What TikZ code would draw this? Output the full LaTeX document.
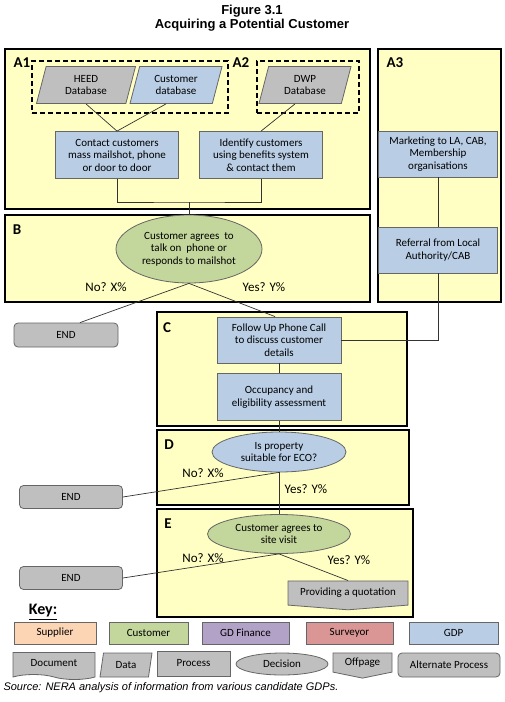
\documentclass[tikz,border=0pt]{standalone}
\usepackage{fontspec}
\setmainfont{Carlito}
\newfontfamily\arial{Liberation Sans}
\usetikzlibrary{shapes.geometric,shapes.symbols}
\definecolor{panelyellow}{HTML}{FFFFC4}
\definecolor{grey}{HTML}{BFBFBF}
\definecolor{gdpblue}{HTML}{B9CDE5}
\definecolor{custgreen}{HTML}{C3D69B}
\definecolor{peach}{HTML}{FCD5B5}
\definecolor{purple}{HTML}{B3A2C7}
\definecolor{rose}{HTML}{D99694}

\begin{document}
\begin{tikzpicture}[x=1pt,y=-1pt,
    every node/.style={font=\fontsize{11}{12.5}\selectfont, align=center},
    panel/.style={draw=black, line width=1.6pt, fill=panelyellow, inner sep=0pt},
    dashbox/.style={draw=black, line width=1.3pt, dash pattern=on 5pt off 3pt, inner sep=0pt},
    proc/.style={draw=black!60, line width=0.8pt, fill=gdpblue, inner sep=1pt, minimum width=123pt, minimum height=47pt},
    data/.style={trapezium, trapezium left angle=66, trapezium right angle=114, trapezium stretches body,
        draw=black!60, line width=0.8pt, inner sep=1pt, minimum width=92pt, minimum height=37pt},
    decision/.style={ellipse, draw=black!60, line width=0.8pt, inner sep=0pt},
    endbox/.style={rectangle, rounded corners=4pt, draw=black!60, line width=0.8pt, fill=grey, minimum width=104pt, minimum height=24pt},
    offpage/.style={signal, signal to=south, signal from=nowhere, signal pointer angle=171,
        draw=black!60, line width=0.8pt, fill=grey, inner sep=1pt},
    keybox/.style={draw=black!60, line width=0.8pt, minimum height=22pt, inner sep=1pt},
    lbl/.style={font=\fontsize{15}{15}\selectfont\bfseries},
    ans/.style={font=\fontsize{13}{13}\selectfont},
    link/.style={draw=black!80, line width=0.7pt}]
    \useasboundingbox (0,0) rectangle (505,702);

    \node[font=\arial\bfseries\fontsize{13}{14.3}\selectfont] (title) at (252,18) {Figure 3.1\\Acquiring a Potential Customer};

    \node[panel, minimum width=365pt, minimum height=160pt] (pA) at (187.5,129) {};
    \node[panel, minimum width=123pt, minimum height=253pt] (pA3) at (439.5,175.5) {};
    \node[panel, minimum width=365pt, minimum height=87pt] (pB) at (187.5,258.5) {};
    \node[panel, minimum width=250pt, minimum height=114pt] (pC) at (282,369) {};
    \node[panel, minimum width=252pt, minimum height=75pt] (pD) at (283,467.5) {};
    \node[panel, minimum width=256pt, minimum height=108pt] (pE) at (285,563) {};

    \node[dashbox, minimum width=196pt, minimum height=52pt] (dA1) at (130,87) {};
    \node[dashbox, minimum width=102pt, minimum height=52pt] (dA2) at (308,87) {};

    \node[lbl] (A1) at (22,63) {A1};
    \node[lbl] (A2) at (241,63) {A2};
    \node[lbl] (A3) at (395,63) {A3};
    \node[lbl] (B) at (17,230) {B};
    \node[lbl] (C) at (167,328) {C};
    \node[lbl] (D) at (169,445) {D};
    \node[lbl] (E) at (168,524) {E};

    \node[data, fill=grey, minimum width=99pt] (heed) at (86,85) {HEED\\Database};
    \node[data, fill=gdpblue] (cust) at (176,85) {Customer\\database};
    \node[data, fill=grey] (dwp) at (305,85) {DWP\\Database};

    \node[proc] (contact) at (117,155) {Contact customers\\mass mailshot, phone\\or door to door};
    \node[proc] (identify) at (261,155) {Identify customers\\using benefits system\\\& contact them};
    \node[proc, minimum width=119pt, minimum height=46pt] (market) at (438,154) {Marketing to LA, CAB,\\Membership\\organisations};
    \node[proc, minimum width=119pt, minimum height=46pt] (referral) at (438,250) {Referral from Local\\Authority/CAB};
    \node[proc, minimum width=124pt, minimum height=46pt] (follow) at (279,340) {Follow Up Phone Call\\to discuss customer\\details};
    \node[proc, minimum width=124pt, minimum height=47pt] (occupancy) at (279,397) {Occupancy and\\eligibility assessment};

    \node[decision, fill=custgreen, minimum width=146pt, minimum height=68pt] (agree) at (189,249) {Customer agrees~ to\\talk on~ phone or\\responds to mailshot};
    \node[decision, fill=gdpblue, minimum width=134pt, minimum height=40pt] (suitable) at (279,452) {Is property\\suitable for ECO?};
    \node[decision, fill=custgreen, minimum width=143pt, minimum height=39pt] (visit) at (279,534) {Customer agrees to\\site visit};

    \node[endbox] (end1) at (66,335) {END};
    \node[endbox, minimum width=103pt, minimum height=23pt] (end2) at (71,497) {END};
    \node[endbox, minimum width=103pt, minimum height=23pt] (end3) at (71,578) {END};
    \node[offpage, minimum width=120pt, minimum height=28pt] (quote) at (348,593) {Providing a quotation};

    \node[ans] (no1) at (106,287) {No? X\%};
    \node[ans] (yes1) at (264,287) {Yes? Y\%};
    \node[ans] (no2) at (203,473) {No? X\%};
    \node[ans] (yes2) at (306,489) {Yes? Y\%};
    \node[ans] (no3) at (203,558) {No? X\%};
    \node[ans] (yes3) at (349,560) {Yes? Y\%};

    \coordinate (join) at (189,202);
    \draw[link] (heed.south) -- (contact.north);
    \draw[link] ([xshift=-10pt]cust.south) -- (contact.north);
    \draw[link] ([xshift=-10pt]dwp.south) -- (identify.north);
    \draw[link] (contact.south) |- (join) -| (identify.south);
    \draw[link] (join) -- (agree.north);
    \draw[link] (agree.south) -- ([xshift=14pt]end1.north);
    \draw[link] (agree.south) -- ([xshift=-4pt]follow.north);
    \draw[link] (market.south) -- (referral.north);
    \draw[link] (referral.south) |- (follow.east);
    \draw[link] (follow.south) -- (occupancy.north);
    \draw[link] (occupancy.south) -- (suitable.north);
    \draw[link] (suitable.south) -- (end2.east);
    \draw[link] (suitable.south) -- (visit.north);
    \draw[link] (visit.south) -- (end3.east);
    \draw[link] (visit.south) -- (quote.north);

    \node[font=\fontsize{16}{16}\selectfont\bfseries] (key) at (43,612) {\underline{Key:}};
    \node[keybox, fill=peach, minimum width=82pt] (ksupplier) at (55,633) {Supplier};
    \node[keybox, fill=custgreen, minimum width=79pt] (kcustomer) at (148.5,633) {Customer};
    \node[keybox, fill=purple, minimum width=87pt] (kfinance) at (245.5,633) {GD Finance};
    \node[keybox, fill=rose, minimum width=87pt] (ksurveyor) at (349.5,633) {Surveyor};
    \node[keybox, fill=gdpblue, minimum width=89pt] (kgdp) at (453.5,633) {GDP};

    \node[tape, tape bend top=none, tape bend bottom=out and in, draw=black!60, line width=0.8pt, fill=grey,
        minimum width=82pt, minimum height=27pt] (kdocument) at (54,663.5) {Document};
    \node[data, fill=grey, trapezium left angle=69, trapezium right angle=111, minimum width=52pt, minimum height=24pt] (kdata) at (126,665) {Data};
    \node[keybox, fill=grey, minimum width=73pt, minimum height=25pt] (kprocess) at (193.5,663.5) {Process};
    \node[decision, fill=grey, minimum width=92pt, minimum height=22pt] (kdecision) at (282,664) {Decision};
    \node[offpage, signal pointer angle=157, minimum width=59pt, minimum height=23pt] (koffpage) at (362.5,662.5) {Offpage};
    \node[endbox, minimum width=102pt] (kalternate) at (449,665) {Alternate Process};

    \node[anchor=west, font=\arial\itshape\fontsize{11}{13}\selectfont] (source) at (0,688) {Source: NERA analysis of information from various candidate GDPs.};
\end{tikzpicture}
\end{document}
